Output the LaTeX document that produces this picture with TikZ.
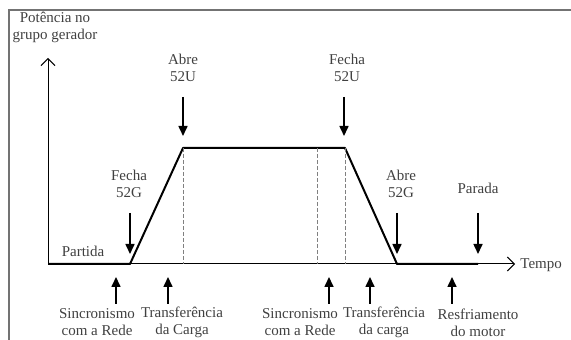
\documentclass[tikz,border=0pt]{standalone}
\usepackage{fontspec}
\setmainfont{Liberation Serif}
\usetikzlibrary{arrows.meta}
\begin{document}
\begin{tikzpicture}[x=0.5pt,y=-0.5pt,
 lbl/.style={font=\fontsize{7.5}{8.5}\selectfont, text=black!75, align=center, inner sep=0pt},
 curve/.style={line width=1pt, line join=round},
 axis/.style={line width=0.5pt, -{Straight Barb[length=3.5pt,width=7pt]}},
 dn/.style={line width=0.8pt, -{Triangle[length=5pt,width=4.5pt]}},
 guide/.style={gray, line width=0.3pt, dash pattern=on 2pt off 1pt},
 frame/.style={draw=black!55, line width=1.2pt}]
\useasboundingbox (0,0) rectangle (571,340);
\draw[frame] (9,340) -- (9,10) -- (571,10);
% axes
\coordinate (O) at (48,264);
\coordinate (ytip) at (48,58);
\coordinate (xtip) at (515,264);
\draw[axis] (O) -- (ytip);
\draw[axis] (O) -- (xtip);
\node[lbl, anchor=west] (tempo) at (520,265) {Tempo};
\node[lbl] (ylab) at (55,27) {Potência no\\grupo gerador};
% curve
\coordinate (c0) at (48,264);
\coordinate (c1) at (130,264);
\coordinate (c2) at (183,148);
\coordinate (c3) at (345,148);
\coordinate (c4) at (397,264);
\coordinate (c5) at (478,264);
\draw[curve] (c0) -- (c1) -- (c2) -- (c3) -- (c4) -- (c5);
% dashed guides
\coordinate (g1b) at (183,264);
\coordinate (g2t) at (317,148);
\coordinate (g2b) at (317,264);
\coordinate (g3b) at (345,264);
\draw[guide] (c2) -- (g1b);
\draw[guide] (g2t) -- (g2b);
\draw[guide] (c3) -- (g3b);
% top labels and down arrows
\node[lbl] (a52u) at (183,68) {Abre\\52U};
\node[lbl] (f52u) at (347,68) {Fecha\\52U};
\node[lbl] (f52g) at (129,183.5) {Fecha\\52G};
\node[lbl] (a52g) at (401,183.5) {Abre\\52G};
\node[lbl] (parada) at (478,188) {Parada};
\node[lbl] (partida) at (83,251) {Partida};
\coordinate (d1s) at (183,97);  \coordinate (d1e) at (183,136);
\coordinate (d2s) at (344,97);  \coordinate (d2e) at (344,136);
\coordinate (d3s) at (130,213); \coordinate (d3e) at (130,254);
\coordinate (d4s) at (397,213); \coordinate (d4e) at (397,254);
\coordinate (d5s) at (478,213); \coordinate (d5e) at (478,254);
\draw[dn] (d1s) -- (d1e);
\draw[dn] (d2s) -- (d2e);
\draw[dn] (d3s) -- (d3e);
\draw[dn] (d4s) -- (d4e);
\draw[dn] (d5s) -- (d5e);
% bottom labels and up arrows
\node[lbl] (s1) at (97,322.5) {Sincronismo\\com a Rede};
\node[lbl] (t1) at (182,322.5) {Transferência\\da Carga};
\node[lbl] (s2) at (300,322.5) {Sincronismo\\com a Rede};
\node[lbl] (t2) at (384,322.5) {Transferência\\da carga};
\node[lbl] (r1) at (478,322.5) {Resfriamento\\do motor};
\coordinate (u1s) at (116,304); \coordinate (u1e) at (116,277);
\coordinate (u2s) at (168,304); \coordinate (u2e) at (168,277);
\coordinate (u3s) at (329,304); \coordinate (u3e) at (329,277);
\coordinate (u4s) at (370,304); \coordinate (u4e) at (370,277);
\coordinate (u5s) at (452,304); \coordinate (u5e) at (452,277);
\draw[dn] (u1s) -- (u1e);
\draw[dn] (u2s) -- (u2e);
\draw[dn] (u3s) -- (u3e);
\draw[dn] (u4s) -- (u4e);
\draw[dn] (u5s) -- (u5e);
\end{tikzpicture}
\end{document}
